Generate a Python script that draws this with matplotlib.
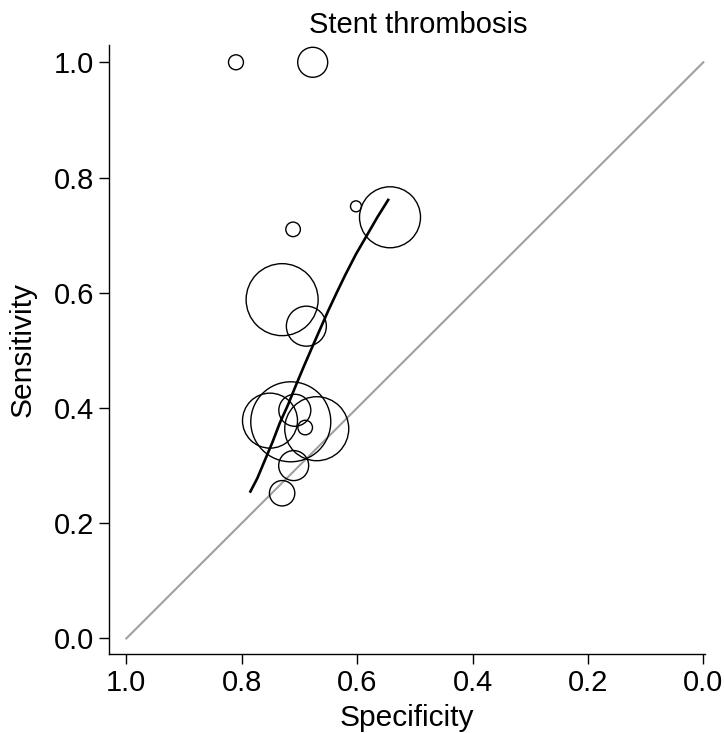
import matplotlib.pyplot as plt
import numpy as np

plt.rcParams["font.family"] = ["Liberation Sans", "DejaVu Sans"]

# study estimates (specificity, sensitivity) and study weights
specificity = [0.810, 0.677, 0.602, 0.543, 0.711, 0.730, 0.688,
               0.751, 0.715, 0.670, 0.708, 0.690, 0.710, 0.730]
sensitivity = [1.000, 1.000, 0.750, 0.731, 0.710, 0.588, 0.542,
               0.378, 0.376, 0.364, 0.396, 0.366, 0.300, 0.252]
weight = [56, 225, 30, 930, 53, 1296, 400,
          756, 1600, 1024, 256, 53, 225, 161]

# summary ROC curve
sroc_spec = [0.786, 0.773, 0.760, 0.747, 0.734, 0.720, 0.705, 0.692, 0.679,
             0.665, 0.650, 0.635, 0.620, 0.602, 0.584, 0.565, 0.545]
sroc_sens = [0.253, 0.278, 0.309, 0.340, 0.374, 0.405, 0.442, 0.473, 0.503,
             0.535, 0.569, 0.601, 0.632, 0.667, 0.698, 0.731, 0.763]

ticks = [1.0, 0.8, 0.6, 0.4, 0.2, 0.0]

dpi = 100
fig = plt.figure(figsize=(7.24, 7.33), dpi=dpi)
ax = fig.add_axes([0.1506, 0.1078, 0.8232, 0.8308])

# chance line
ax.plot([1.0, 0.0], [0.0, 1.0], color="#a0a0a0", linewidth=1.5, zorder=1)

# marker area in points^2, proportional to study weight
px_to_pt = 72.0 / dpi
sizes = np.array(weight, dtype=float) * (2 * px_to_pt) ** 2
ax.scatter(specificity, sensitivity, s=sizes, facecolors="none",
           edgecolors="black", linewidths=1.0, zorder=2)

ax.plot(sroc_spec, sroc_sens, color="black", linewidth=1.9,
        solid_capstyle="butt", zorder=3)

ax.set_xlim(1.03, -0.003)
ax.set_ylim(-0.027, 1.03)
ax.set_xticks(ticks)
ax.set_yticks(ticks)
ax.set_xticklabels([f"{t:.1f}" for t in ticks])
ax.set_yticklabels([f"{t:.1f}" for t in ticks])

for side in ("top", "right"):
    ax.spines[side].set_visible(False)
for side in ("left", "bottom"):
    ax.spines[side].set_linewidth(1.0)

ax.tick_params(axis="both", direction="out", length=7, width=1.0,
               labelsize=21, pad=4)

ax.set_xlabel("Specificity", fontsize=21.5, labelpad=5)
ax.set_ylabel("Sensitivity", fontsize=21.5, labelpad=12)
ax.set_title("Stent thrombosis", fontsize=21, pad=9, x=0.518)

fig.savefig("out.png", dpi=dpi)
